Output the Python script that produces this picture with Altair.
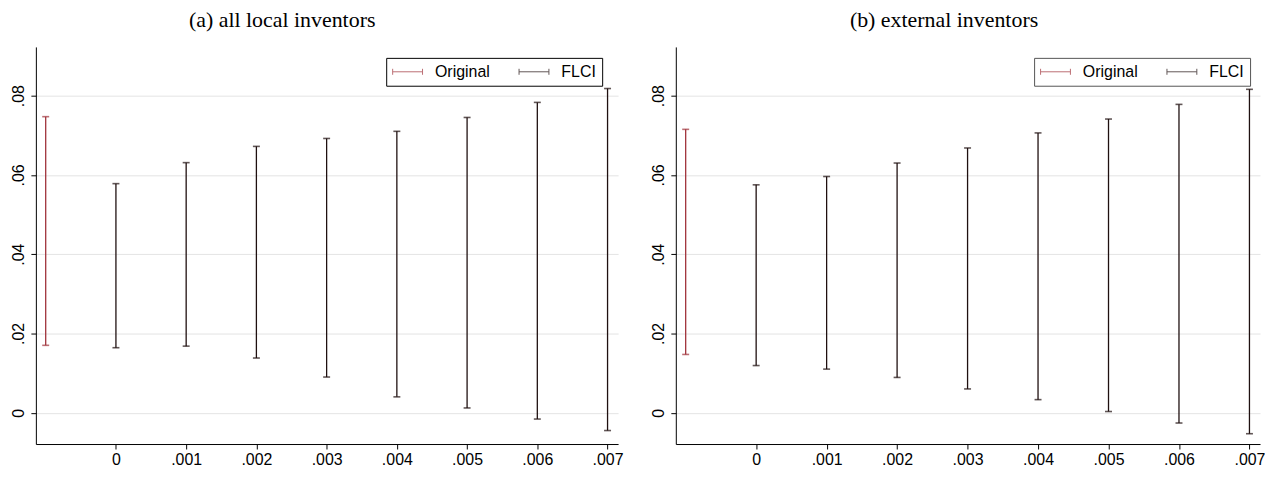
import altair as alt
import pandas as pd

# ---- data ----
series_names = ["Original", "FLCI"]
series_colors = ["#a0323a", "#1f1010"]

orig_x = -0.001
flci_x = [0.0, 0.001, 0.002, 0.003, 0.004, 0.005, 0.006, 0.007]
x_tick_values = [0.0, 0.001, 0.002, 0.003, 0.004, 0.005, 0.006, 0.007]
y_tick_values = [0.0, 0.02, 0.04, 0.06, 0.08]

# (a) all local inventors
a_orig_lo, a_orig_hi = 0.0170, 0.0747
a_lo = [0.0164, 0.0168, 0.0138, 0.0090, 0.0040, 0.0012, -0.0016, -0.0045]
a_hi = [0.0578, 0.0631, 0.0672, 0.0692, 0.0710, 0.0745, 0.0783, 0.0818]

# (b) external inventors
b_orig_lo, b_orig_hi = 0.0147, 0.0715
b_lo = [0.0119, 0.0110, 0.0089, 0.0060, 0.0033, 0.0003, -0.0026, -0.0053]
b_hi = [0.0575, 0.0596, 0.0630, 0.0668, 0.0706, 0.0741, 0.0778, 0.0816]

titles = ["(a) all local inventors", "(b) external inventors"]

# error-bar glyph for the legend: 30px wide line with end caps
LEGEND_PATH = "M-1,0H3M-1,-0.4V0.4M3,-0.4V0.4"


def panel(title, o_lo, o_hi, lo, hi, width, title_dx, legend_x, legend_stroke):
    df = pd.DataFrame({
        "x": [orig_x] + flci_x,
        "lo": [o_lo] + lo,
        "hi": [o_hi] + hi,
        "series": ["Original"] + ["FLCI"] * len(flci_x),
    })
    xenc = alt.X(
        "x:Q",
        scale=alt.Scale(domain=[-0.00114, 0.00715], nice=False, zero=False),
        axis=alt.Axis(
            values=x_tick_values, grid=False, title=None,
            labelExpr="datum.value == 0 ? '0' : substring(format(datum.value, '.3f'), 1)",
            labelPadding=3, tickSize=5,
        ),
    )
    yscale = alt.Scale(domain=[-0.0079, 0.0923], nice=False, zero=False)
    yaxis = alt.Axis(
        values=y_tick_values, grid=True, gridColor="#e4e4e4", title=None,
        labelExpr="datum.value == 0 ? '0' : substring(format(datum.value, '.2f'), 1)",
        labelAngle=270, labelAlign="center", labelBaseline="bottom",
        labelPadding=4, tickSize=5, minExtent=28, maxExtent=28,
    )
    color = alt.Color(
        "series:N",
        scale=alt.Scale(domain=series_names, range=series_colors),
        legend=alt.Legend(
            title=None, orient="none", legendX=legend_x, legendY=11,
            direction="horizontal", strokeColor=legend_stroke, fillColor="white",
            padding=6, symbolType=LEGEND_PATH, symbolSize=225,
            symbolStrokeWidth=1, labelFont="Liberation Sans", labelFontSize=16,
            labelColor="black", columnPadding=26, labelOffset=27,
        ),
    )
    base = alt.Chart(df)
    rules = base.mark_rule(strokeWidth=1.3).encode(
        x=xenc, y=alt.Y("lo:Q", scale=yscale, axis=yaxis), y2="hi:Q", color=color
    )
    cap_lo = base.mark_tick(orient="horizontal", size=7, thickness=1.6).encode(
        x=xenc, y=alt.Y("lo:Q", scale=yscale), color=color
    )
    cap_hi = base.mark_tick(orient="horizontal", size=7, thickness=1.6).encode(
        x=xenc, y=alt.Y("hi:Q", scale=yscale), color=color
    )
    return alt.layer(rules, cap_lo, cap_hi).properties(
        width=width, height=399,
        title=alt.Title(title, font="Liberation Serif", fontSize=22,
                        fontWeight="normal", color="black", dx=title_dx, offset=15),
    )


left = panel(titles[0], a_orig_lo, a_orig_hi, a_lo, a_hi, 585, -45, 352, "black")
right = panel(titles[1], b_orig_lo, b_orig_hi, b_lo, b_hi, 587, -24, 360, "#555555")

chart = alt.hconcat(left, right, spacing=25).resolve_scale(color="independent").properties(
    padding={"left": 0, "top": 0, "right": 0, "bottom": 0}
).configure_view(stroke=None).configure_axis(
    domainColor="black", tickColor="black", labelColor="black",
    labelFont="Liberation Sans", labelFontSize=16,
)

chart.save("out.html", embed_options={"renderer": "svg", "actions": False})
